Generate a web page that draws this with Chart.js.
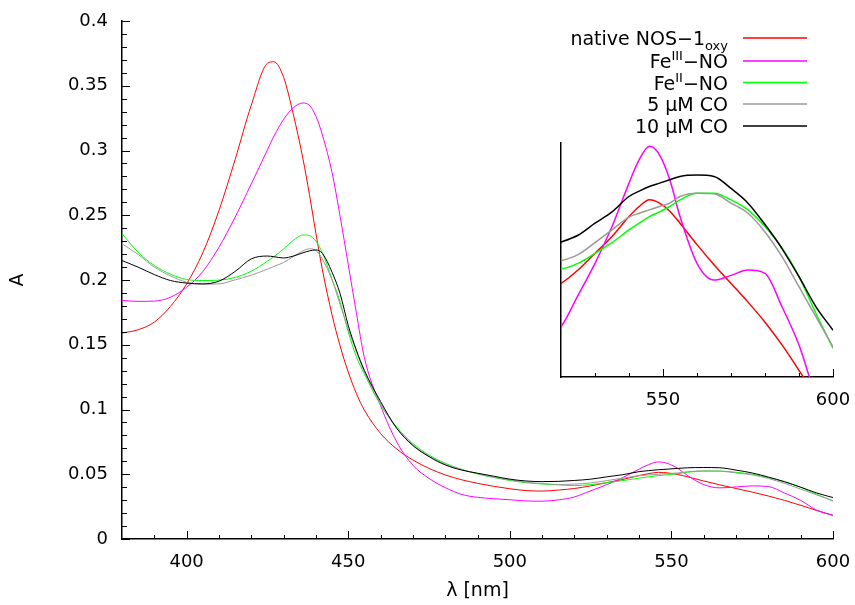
<!DOCTYPE html>
<html>
<head>
<meta charset="utf-8">
<script src="https://cdn.jsdelivr.net/npm/chart.js@4.4.1/dist/chart.umd.min.js"></script>
<style>
  html,body{margin:0;padding:0;background:#fff;}
  #wrap{position:relative;width:855px;height:605px;overflow:hidden;background:#fff;}
  canvas{position:absolute;}
  .legtxt{position:absolute;right:127px;height:22px;line-height:22px;font-family:"DejaVu Sans",sans-serif;font-size:19px;color:#000;white-space:nowrap;text-align:right;}
  .legtxt sup{font-size:13px;vertical-align:0;position:relative;top:-8px;}
  .legtxt sub{font-size:13px;vertical-align:0;position:relative;top:5px;}
</style>
</head>
<body>
<div id="wrap">
  <canvas id="main" width="855" height="605" style="left:0;top:0"></canvas>
  <canvas id="inset" width="299" height="274" style="left:556px;top:138px"></canvas>
  <div id="legend"></div>
</div>
<script>
// ---- data ----
const wavelengths = [380,385,390,395,400,405,410,415,420,425,
  427,430,433,436,438,440,442,445,447.5,450,452.5,455,
  460,465,470,475,480,485,490,495,500,505,510,515,520,525,530,535,540,
  543,546,549,552,555,
  560,565,570,575,580,585,590,595,600];

const nativeNOS = [0.159,0.1616,0.1675,0.1796,0.197,0.221,0.2536,0.293,0.335,0.3673,
  0.3685,0.3565,0.328,0.2935,0.266,0.236,0.208,0.173,0.149,0.129,0.1125,0.0995,
  0.0815,0.0695,0.061,0.0545,0.0495,0.0458,0.043,0.0407,0.0388,0.0374,0.037,0.0378,0.039,0.041,0.0435,0.046,0.049,
  0.0505,0.0515,0.051,0.0498,0.048,
  0.0448,0.0418,0.039,0.0362,0.0332,0.0298,0.026,0.022,0.0183];

const fe3NO = [0.1842,0.1835,0.1837,0.1867,0.1944,0.2065,0.2253,0.2485,0.2742,0.3005,
  0.311,0.324,0.333,0.3367,0.3348,0.3265,0.312,0.283,0.249,0.212,0.175,0.140,
  0.103,0.075,0.057,0.0468,0.0397,0.0345,0.0322,0.0311,0.0303,0.0294,0.0292,0.0302,0.0325,0.0372,0.042,0.0475,0.054,
  0.0575,0.0595,0.0582,0.0545,0.049,
  0.042,0.0395,0.0402,0.041,0.0405,0.0355,0.0298,0.0222,0.0182];

const fe2NO = [0.2357,0.2214,0.2112,0.2045,0.2004,0.1996,0.1999,0.202,0.2068,0.2145,
  0.218,0.224,0.2305,0.2348,0.2342,0.230,0.221,0.2005,0.183,0.160,0.141,0.1276,
  0.1035,0.0865,0.0738,0.0648,0.0585,0.0538,0.0502,0.0475,0.0452,0.0435,0.0425,0.0418,0.0412,0.042,0.0435,0.0451,0.047,
  0.048,0.049,0.0497,0.0505,0.0515,
  0.0525,0.0525,0.0515,0.050,0.0475,0.0443,0.040,0.0345,0.0293];

const co5uM = [0.228,0.2197,0.21,0.2032,0.1983,0.1968,0.197,0.2001,0.2037,0.2084,
  0.2105,0.2135,0.218,0.2225,0.2241,0.2228,0.2162,0.2,0.181,0.162,0.145,0.129,
  0.1045,0.0855,0.0728,0.064,0.0578,0.0538,0.0505,0.0478,0.0457,0.0438,0.0428,0.0421,0.0424,0.0433,0.0451,0.047,0.0489,
  0.0495,0.050,0.0505,0.051,0.052,
  0.0525,0.0524,0.051,0.0495,0.0467,0.043,0.0385,0.034,0.0295];

const co10uM = [0.215,0.2099,0.2042,0.1996,0.1976,0.197,0.1991,0.2066,0.2163,0.2185,
  0.218,0.217,0.2185,0.221,0.2225,0.2232,0.2205,0.206,0.1893,0.165,0.146,0.1302,
  0.1062,0.0855,0.0722,0.0636,0.0572,0.0533,0.0508,0.0485,0.0462,0.0448,0.0443,0.0445,0.0452,0.0462,0.048,0.0497,0.052,
  0.0528,0.0535,0.054,0.0545,0.055,
  0.0552,0.055,0.0532,0.051,0.0478,0.0442,0.040,0.0355,0.032];

const seriesLabels = ['native NOS\u22121<sub>oxy</sub>', 'Fe<sup>III</sup>\u2212NO', 'Fe<sup>II</sup>\u2212NO', '5 \u03bcM CO', '10 \u03bcM CO'];
const seriesValues = [nativeNOS, fe3NO, fe2NO, co5uM, co10uM];
const seriesColors = ['#ff0000', '#ff00ff', '#00ff00', '#999999', '#000000'];

const xTickLabels = [400, 450, 500, 550, 600];
const yTickLabels = [0, 0.05, 0.1, 0.15, 0.2, 0.25, 0.3, 0.35, 0.4];
const insetXTickLabels = [550, 600];

// ---- helpers ----
const FONT = '"DejaVu Sans", sans-serif';
function minorRange(a, b, step) { const r = []; for (let v = a; v <= b + 1e-9; v += step) r.push(+v.toFixed(4)); return r; }
const noPad = s => { s.paddingLeft = 0; s.paddingRight = 0; s.paddingTop = 0; s.paddingBottom = 0; };

const inwardTicks = {
  id: 'inwardTicks',
  afterDatasetsDraw(chart, args, o) {
    const {ctx, chartArea: a} = chart;
    const x = chart.scales.x, y = chart.scales.y;
    ctx.save();
    ctx.strokeStyle = '#000';
    ctx.lineWidth = 1;
    ctx.beginPath();
    const xt = (list, len) => (list || []).forEach(v => { const p = Math.round(x.getPixelForValue(v)) + 0.5; ctx.moveTo(p, a.bottom); ctx.lineTo(p, a.bottom - len); });
    const yt = (list, len) => (list || []).forEach(v => { const p = Math.round(y.getPixelForValue(v)) + 0.5; ctx.moveTo(a.left, p); ctx.lineTo(a.left + len, p); });
    xt(o.xMinor, o.minorLen); xt(o.xMajor, o.majorLen);
    yt(o.yMinor, o.yMinorLen); yt(o.yMajor, o.majorLen);
    ctx.stroke();
    ctx.restore();
  }
};

const legendLines = {
  id: 'legendLines',
  afterDraw(chart, args, o) {
    if (!o.rows) return;
    const ctx = chart.ctx;
    ctx.save();
    ctx.lineWidth = 1.6;
    chart.data.datasets.forEach((ds, i) => {
      const y = o.rows[i];
      ctx.strokeStyle = ds.borderColor;
      ctx.beginPath();
      ctx.moveTo(o.x0, y); ctx.lineTo(o.x1, y);
      ctx.stroke();
    });
    ctx.restore();
  }
};

function makeDatasets(width) {
  return seriesValues.map((vals, i) => ({
    label: seriesLabels[i],
    data: wavelengths.map((w, k) => ({x: w, y: vals[k]})),
    borderColor: seriesColors[i],
    borderWidth: width,
    pointRadius: 0,
    cubicInterpolationMode: 'monotone',
    fill: false,
    order: seriesValues.length - i
  }));
}

const rowCenters = [38, 61, 82.5, 104, 126];

// ---- main chart ----
new Chart(document.getElementById('main'), {
  type: 'line',
  data: {datasets: makeDatasets(1)},
  options: {
    responsive: false, animation: false, devicePixelRatio: 1,
    layout: {padding: {top: 21, right: 22, left: 0, bottom: 0}},
    plugins: {
      legend: {display: false}, tooltip: {enabled: false},
      inwardTicks: {
        xMajor: xTickLabels, xMinor: minorRange(390, 590, 10),
        yMajor: yTickLabels, yMinor: minorRange(0.01, 0.39, 0.01),
        majorLen: 8, minorLen: 4, yMinorLen: 5
      },
      legendLines: {rows: rowCenters, x0: 743, x1: 807}
    },
    scales: {
      x: {
        type: 'linear', min: 380, max: 600,
        afterBuildTicks: s => { s.ticks = xTickLabels.map(v => ({value: v})); },
        afterFit: s => { s.height = 66; noPad(s); },
        grid: {display: false, drawTicks: false},
        border: {display: true, color: '#000', width: 1.5},
        ticks: {color: '#000', padding: 13, maxRotation: 0, font: {family: FONT, size: 18}},
        title: {display: true, text: '\u03bb [nm]', color: '#000', font: {family: FONT, size: 19}, padding: {top: 0, bottom: 3}}
      },
      y: {
        type: 'linear', min: 0, max: 0.4,
        afterBuildTicks: s => { s.ticks = yTickLabels.map(v => ({value: v})); },
        afterFit: s => { s.width = 122; noPad(s); },
        grid: {display: false, drawTicks: false},
        border: {display: true, color: '#000', width: 1.5},
        ticks: {color: '#000', padding: 14, font: {family: FONT, size: 18}, callback: v => String(+(+v).toFixed(2))},
        title: {display: true, text: 'A', color: '#000', font: {family: FONT, size: 19}, padding: {top: 7, bottom: 0}}
      }
    }
  },
  plugins: [inwardTicks, legendLines]
});

// ---- inset chart ----
new Chart(document.getElementById('inset'), {
  type: 'line',
  data: {datasets: makeDatasets(1.5)},
  options: {
    responsive: false, animation: false, devicePixelRatio: 1,
    layout: {padding: {top: 5, right: 22, left: 5, bottom: 0}},
    plugins: {
      legend: {display: false}, tooltip: {enabled: false},
      inwardTicks: {
        xMajor: insetXTickLabels, xMinor: minorRange(530, 590, 10),
        majorLen: 8, minorLen: 4
      }
    },
    scales: {
      x: {
        type: 'linear', min: 520, max: 600,
        afterBuildTicks: s => { s.ticks = insetXTickLabels.map(v => ({value: v})); },
        afterFit: s => { s.height = 35; noPad(s); },
        grid: {display: false, drawTicks: false},
        border: {display: true, color: '#000', width: 1.5},
        ticks: {color: '#000', padding: 13, maxRotation: 0, font: {family: FONT, size: 18}}
      },
      y: {
        type: 'linear', min: 0.025, max: 0.06,
        afterFit: s => { s.width = 0; noPad(s); },
        grid: {display: false, drawTicks: false},
        border: {display: true, color: '#000', width: 1.5},
        ticks: {display: false}
      }
    }
  },
  plugins: [inwardTicks]
});

// ---- legend text ----
const leg = document.getElementById('legend');
seriesLabels.forEach((lab, i) => {
  const t = document.createElement('div');
  t.className = 'legtxt';
  t.style.top = (rowCenters[i] - 11) + 'px';
  t.innerHTML = lab;
  leg.appendChild(t);
});
</script>
</body>
</html>
